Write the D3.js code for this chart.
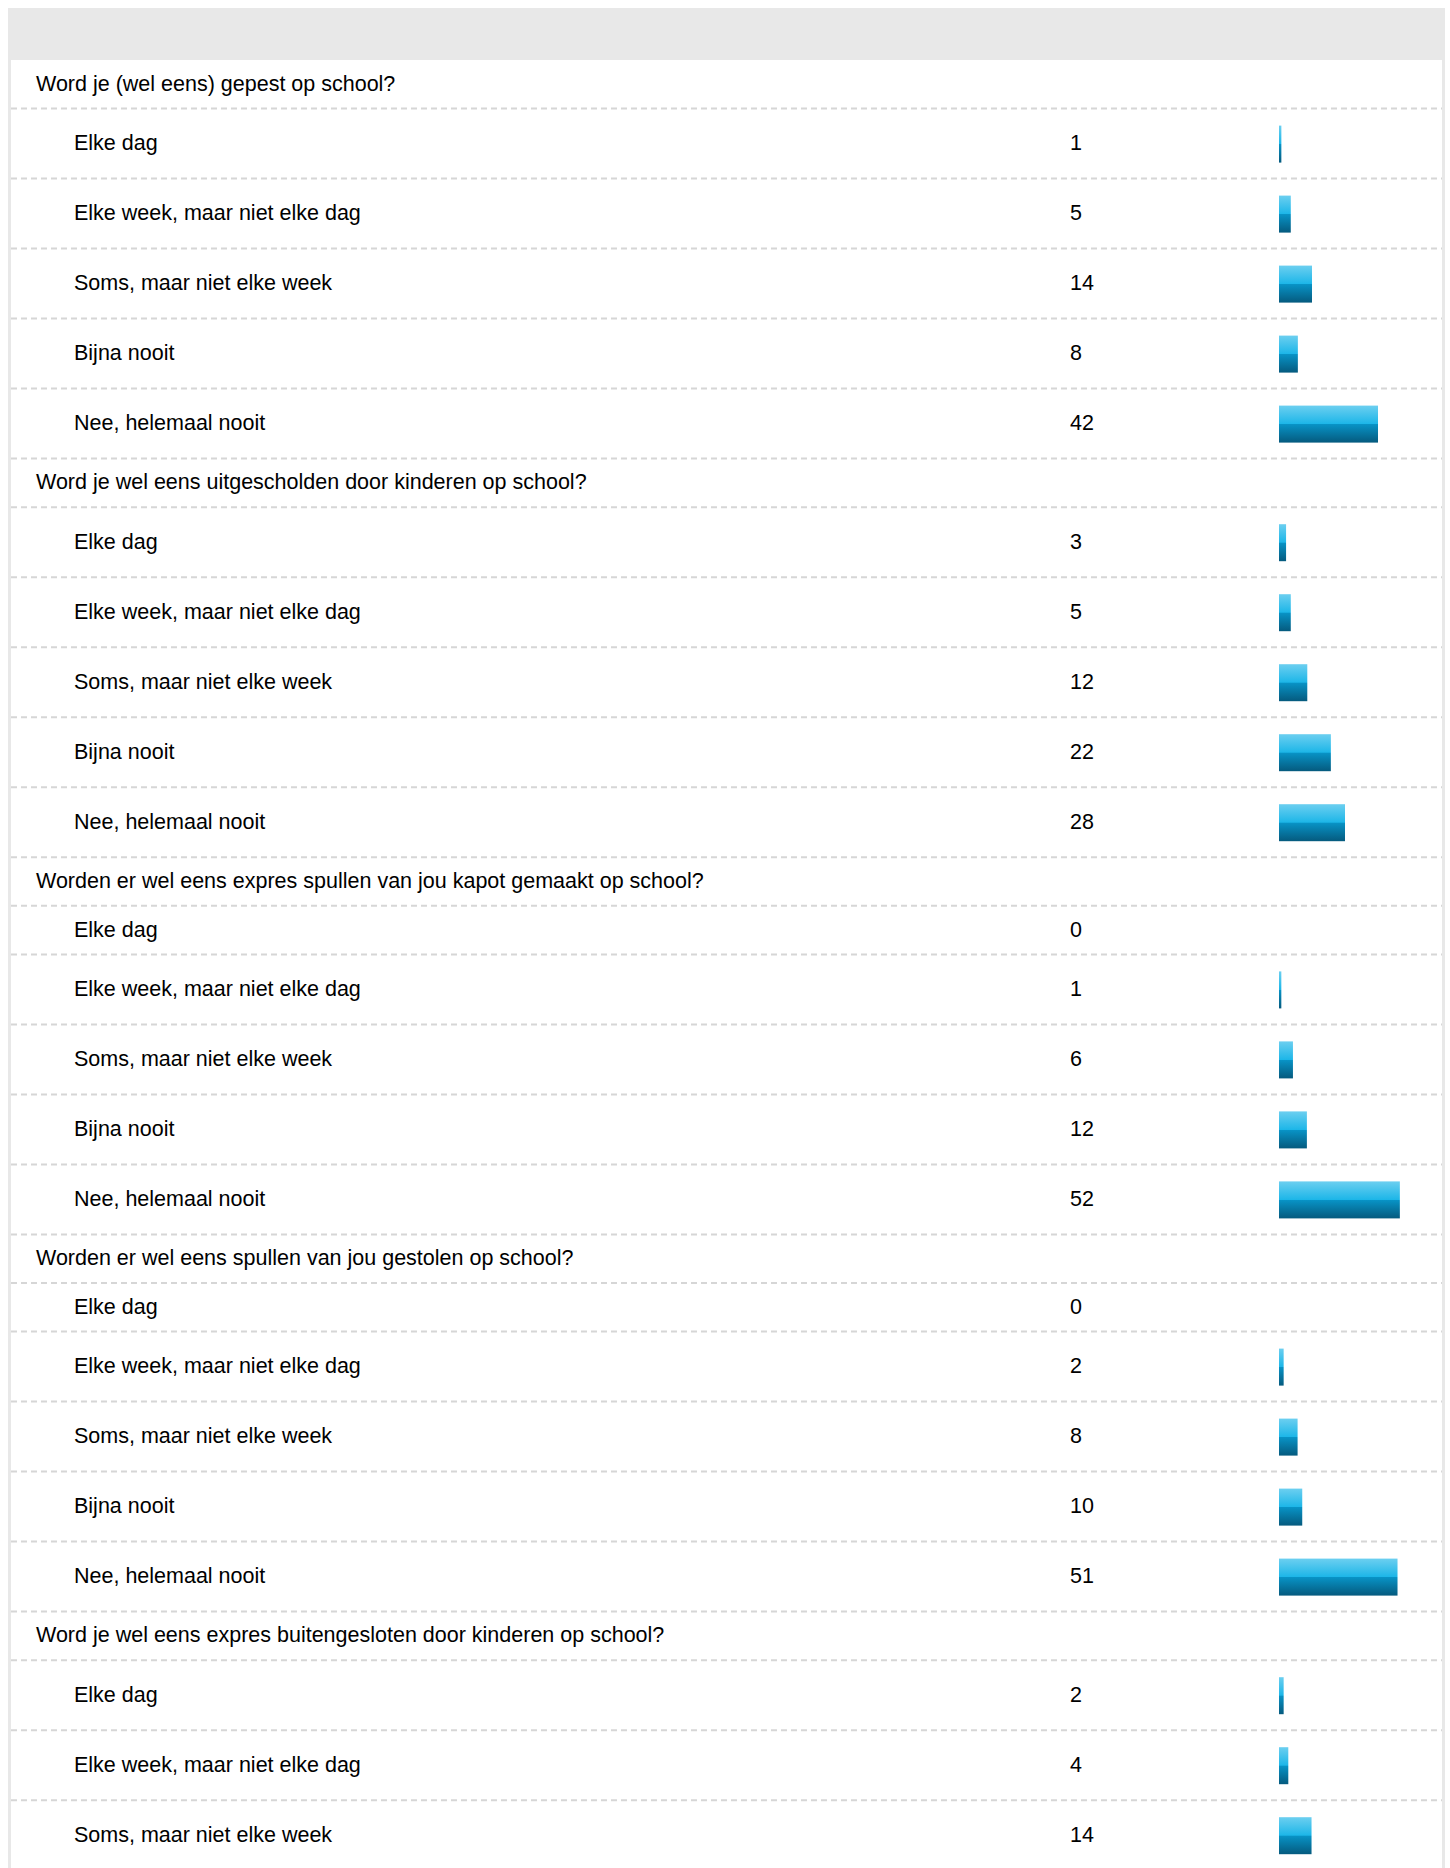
<!DOCTYPE html>
<html>
<head>
<meta charset="utf-8">
<script src="https://cdn.jsdelivr.net/npm/d3@7"></script>
<style>
  body { margin: 0; background: #fff; }
  svg { display: block; font-family: "Liberation Sans", Arial, Helvetica, sans-serif; }
</style>
</head>
<body>
<div id="chart"></div>
<script>
/* Survey table with small bars */

const questions = [
    "Word je (wel eens) gepest op school?",
    "Word je wel eens uitgescholden door kinderen op school?",
    "Worden er wel eens expres spullen van jou kapot gemaakt op school?",
    "Worden er wel eens spullen van jou gestolen op school?",
    "Word je wel eens expres buitengesloten door kinderen op school?"
];
const answers = ["Elke dag", "Elke week, maar niet elke dag", "Soms, maar niet elke week", "Bijna nooit", "Nee, helemaal nooit"];
const counts = [
    [1, 5, 14, 8, 42],
    [3, 5, 12, 22, 28],
    [0, 1, 6, 12, 52],
    [0, 2, 8, 10, 51],
    [2, 4, 14]
];
const respondents = [70, 70, 71, 71, 71];

const width = 1450,
      height = 1868,
      left = 11, right = 1442,
      bodyTop = 60,
      qRow = 48.6, barRow = 70, emptyRow = 48.6;

// flatten into rows
let rows = [];
questions.forEach((q, i) => {
    rows.push({type: "q", label: q});
    counts[i].forEach((v, j) => {
        rows.push({type: "a", label: answers[j], value: v, pct: v / respondents[i] * 100});
    });
});
rows.forEach(d => d.h = d.type == "q" ? qRow : (d.value > 0 ? barRow : emptyRow));
const ends = d3.cumsum(rows, d => d.h);
rows.forEach((d, i) => { d.y = bodyTop + ends[i] - d.h; });

let svg = d3.select("#chart")
    .append("svg")
    .attr("width", width)
    .attr("height", height)
    .attr("viewBox", [0, 0, width, height]);

let grad = svg.append("defs").append("linearGradient")
    .attr("id", "bar")
    .attr("x1", 0).attr("y1", 0).attr("x2", 0).attr("y2", 1);
grad.append("stop").attr("offset", "0%").attr("stop-color", "#6ccff0");
grad.append("stop").attr("offset", "49%").attr("stop-color", "#1db6e8");
grad.append("stop").attr("offset", "50.5%").attr("stop-color", "#0893c6");
grad.append("stop").attr("offset", "100%").attr("stop-color", "#055a7e");

// frame + grey header
svg.append("rect")
    .attr("x", 8).attr("y", 8)
    .attr("width", 1445 - 8).attr("height", height)
    .attr("fill", "#e8e8e8");
svg.append("rect")
    .attr("x", left).attr("y", bodyTop)
    .attr("width", right - left).attr("height", height)
    .attr("fill", "#fff");

let x = d3.scaleLinear()
    .domain([0, 100])
    .range([0, 165]);

let row = svg.selectAll(".row")
    .data(rows)
    .join("g")
    .attr("class", "row")
    .attr("transform", d => `translate(0,${d.y})`);

row.append("line")
    .attr("x1", left).attr("x2", right)
    .attr("y1", d => d.h).attr("y2", d => d.h)
    .attr("stroke", "#d6d6d6")
    .attr("stroke-width", 2)
    .attr("stroke-dasharray", "6,4");

row.append("text")
    .text(d => d.label)
    .attr("x", d => d.type == "q" ? 36 : 74)
    .attr("y", d => d.h / 2 + 6.5)
    .style("font-size", "21.5px")
    .style("fill", "#000");

let ans = row.filter(d => d.type == "a");

ans.append("text")
    .text(d => d.value)
    .attr("x", 1070)
    .attr("y", d => d.h / 2 + 6.5)
    .style("font-size", "21.5px")
    .style("fill", "#000");

ans.filter(d => d.value > 0).append("rect")
    .attr("x", 1279)
    .attr("y", d => d.h / 2 - 18)
    .attr("width", d => x(d.pct))
    .attr("height", 37)
    .attr("fill", "url(#bar)");
</script>
</body>
</html>
